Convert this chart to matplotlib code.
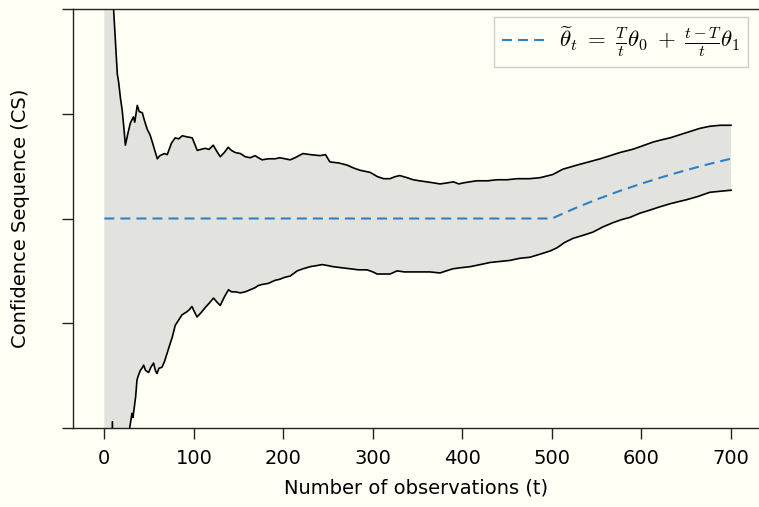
import numpy as np
import matplotlib
matplotlib.use("Agg")
import matplotlib.pyplot as plt

# valeurs (unites arbitraires, graduations 0..4 sans etiquettes)
upper_t = [0, 8, 10, 12, 14.5, 16, 18, 20, 22, 23.5, 26, 29, 32.5, 34, 36.8, 39, 42.4, 45, 48, 51,
           53.6, 56, 59.2, 62, 64.7, 67, 70.3, 75, 79.2, 83, 87.1, 92, 98.2, 103.8, 108, 112.7, 117,
           121.7, 125, 129.5, 134, 138.4, 142, 146.2, 152, 157.4, 163, 168.5, 172, 176.3, 183, 190.8,
           196, 202, 207.6, 213, 222, 230, 241, 247, 252, 262, 271, 279, 286, 297, 305, 312, 319,
           325, 330, 338, 345, 352, 360, 368, 375, 383, 390, 396, 401, 408, 416, 428, 439, 450, 461,
           475, 487, 501, 512, 520, 528, 541, 554, 565, 576, 590, 600, 613, 622, 632, 643, 654, 665,
           676, 688, 700]
upper_cs = [60, 5.5, 4.05, 3.75, 3.38, 3.30, 3.15, 3.03, 2.85, 2.70, 2.80, 2.91, 2.97, 2.92, 3.08,
            3.02, 3.01, 2.93, 2.85, 2.80, 2.73, 2.66, 2.57, 2.60, 2.61, 2.62, 2.61, 2.72, 2.77, 2.76,
            2.79, 2.78, 2.77, 2.65, 2.66, 2.67, 2.66, 2.70, 2.65, 2.59, 2.63, 2.68, 2.65, 2.63, 2.62,
            2.59, 2.58, 2.60, 2.58, 2.56, 2.57, 2.57, 2.58, 2.57, 2.56, 2.58, 2.62, 2.61, 2.60, 2.61,
            2.54, 2.53, 2.51, 2.48, 2.46, 2.44, 2.40, 2.38, 2.38, 2.40, 2.41, 2.39, 2.37, 2.36, 2.35,
            2.34, 2.33, 2.34, 2.35, 2.33, 2.34, 2.35, 2.36, 2.36, 2.37, 2.37, 2.38, 2.38, 2.39, 2.42,
            2.47, 2.49, 2.51, 2.54, 2.57, 2.60, 2.63, 2.66, 2.69, 2.73, 2.75, 2.77, 2.80, 2.83, 2.86,
            2.88, 2.89, 2.89]

lower_t = [0, 8, 9, 10, 27, 28.3, 30.9, 32, 33.8, 35, 36.5, 38, 40.2, 42, 43.9, 46, 49.5, 52, 55,
           57, 58.8, 61, 64.4, 67, 70, 73.7, 76, 79.2, 83, 86.7, 92.3, 95, 97.9, 100, 103.5, 108,
           112.7, 117, 122, 126, 129.5, 134, 138.7, 142, 146.2, 152, 157.4, 163, 168.5, 172, 176,
           183, 190.8, 196, 202, 207.6, 215.4, 222, 229.9, 237, 243.3, 250, 255.6, 265, 274.6, 284,
           293.5, 300, 304.7, 312, 319.2, 327, 335, 344.9, 355, 363.8, 375, 382, 389.5, 398, 408.5,
           420, 430.8, 442, 453.1, 464, 475.4, 487, 498, 505.6, 514, 523.4, 535, 545.8, 557, 568.1,
           578, 587, 598, 609.4, 620, 631.7, 641, 650.7, 663, 676.3, 688, 700]
lower_cs = [-60, -0.6, 0.06, -0.6, -0.15, 0.0, 0.14, 0.10, 0.22, 0.30, 0.46, 0.50, 0.55, 0.57,
            0.60, 0.55, 0.53, 0.58, 0.62, 0.55, 0.52, 0.57, 0.58, 0.63, 0.71, 0.81, 0.87, 0.98,
            1.03, 1.08, 1.11, 1.13, 1.16, 1.12, 1.06, 1.10, 1.15, 1.19, 1.24, 1.20, 1.17, 1.25,
            1.32, 1.30, 1.30, 1.29, 1.30, 1.32, 1.34, 1.36, 1.37, 1.38, 1.41, 1.42, 1.44, 1.45,
            1.50, 1.52, 1.54, 1.55, 1.56, 1.55, 1.54, 1.53, 1.52, 1.51, 1.51, 1.49, 1.47, 1.47,
            1.47, 1.50, 1.49, 1.49, 1.49, 1.49, 1.48, 1.50, 1.52, 1.53, 1.54, 1.56, 1.58, 1.59,
            1.60, 1.62, 1.63, 1.66, 1.69, 1.72, 1.77, 1.81, 1.84, 1.87, 1.92, 1.96, 1.99, 2.01,
            2.05, 2.08, 2.11, 2.14, 2.16, 2.18, 2.21, 2.25, 2.26, 2.27]

theta_t = [0, 500, 525, 550, 575, 600, 625, 650, 675, 700]
theta_val = [2, 2, 2.095, 2.182, 2.261, 2.333, 2.4, 2.462, 2.519, 2.571]

xticks = [0, 100, 200, 300, 400, 500, 600, 700]
yticks = [0, 1, 2, 3, 4]

bg = '#fffff6'
plt.rcParams['font.family'] = ['DejaVu Sans']
plt.rcParams['mathtext.fontset'] = 'cm'

fig = plt.figure(figsize=(7.59, 5.07), dpi=100, facecolor=bg)
ax = fig.add_axes([73/759, 1-428/507, 1-73/759, (428-9)/507], facecolor=bg)

# bande de confiance
poly_t = np.concatenate([upper_t, lower_t[::-1]])
poly_v = np.concatenate([upper_cs, lower_cs[::-1]])
ax.fill(poly_t, poly_v, color='#e2e3df', lw=0, zorder=1)
ax.plot(upper_t, upper_cs, color='black', lw=1.2, zorder=2)
ax.plot(lower_t, lower_cs, color='black', lw=1.2, zorder=2)
ax.plot(theta_t, theta_val, color='#2f80c4', lw=1.5, ls=(0, (4.8, 2.9)), zorder=3,
        label=r'$\widetilde{\theta}_t\; =\; \frac{T}{t}\theta_0 \;+\; \frac{t-T}{t}\theta_1$')

ax.set_xlim(-35, 731.3)
ax.set_ylim(0, 4)
ax.set_xticks(xticks)
ax.set_xticklabels([str(v) for v in xticks])
ax.set_yticks(yticks)
ax.set_yticklabels([])
ax.tick_params(length=8, width=1, color='#222222', labelsize=14, pad=7)
ax.spines['right'].set_visible(False)
for s in ['left', 'bottom', 'top']:
    ax.spines[s].set_color('#222222')
    ax.spines[s].set_linewidth(1)

ax.set_xlabel('Number of observations (t)', fontsize=14, labelpad=8)
ax.set_ylabel('Confidence Sequence (CS)', fontsize=14, labelpad=16)

leg = ax.legend(loc='upper right', bbox_to_anchor=(748/759, 1-17/507),
                bbox_transform=fig.transFigure, borderaxespad=0, fontsize=16.5,
                fancybox=False, edgecolor='#cccccc', facecolor=bg, framealpha=1,
                handlelength=1.9, handletextpad=0.6, borderpad=0.35)
leg.get_frame().set_linewidth(1)

fig.savefig('out.png', dpi=100, facecolor=bg)
